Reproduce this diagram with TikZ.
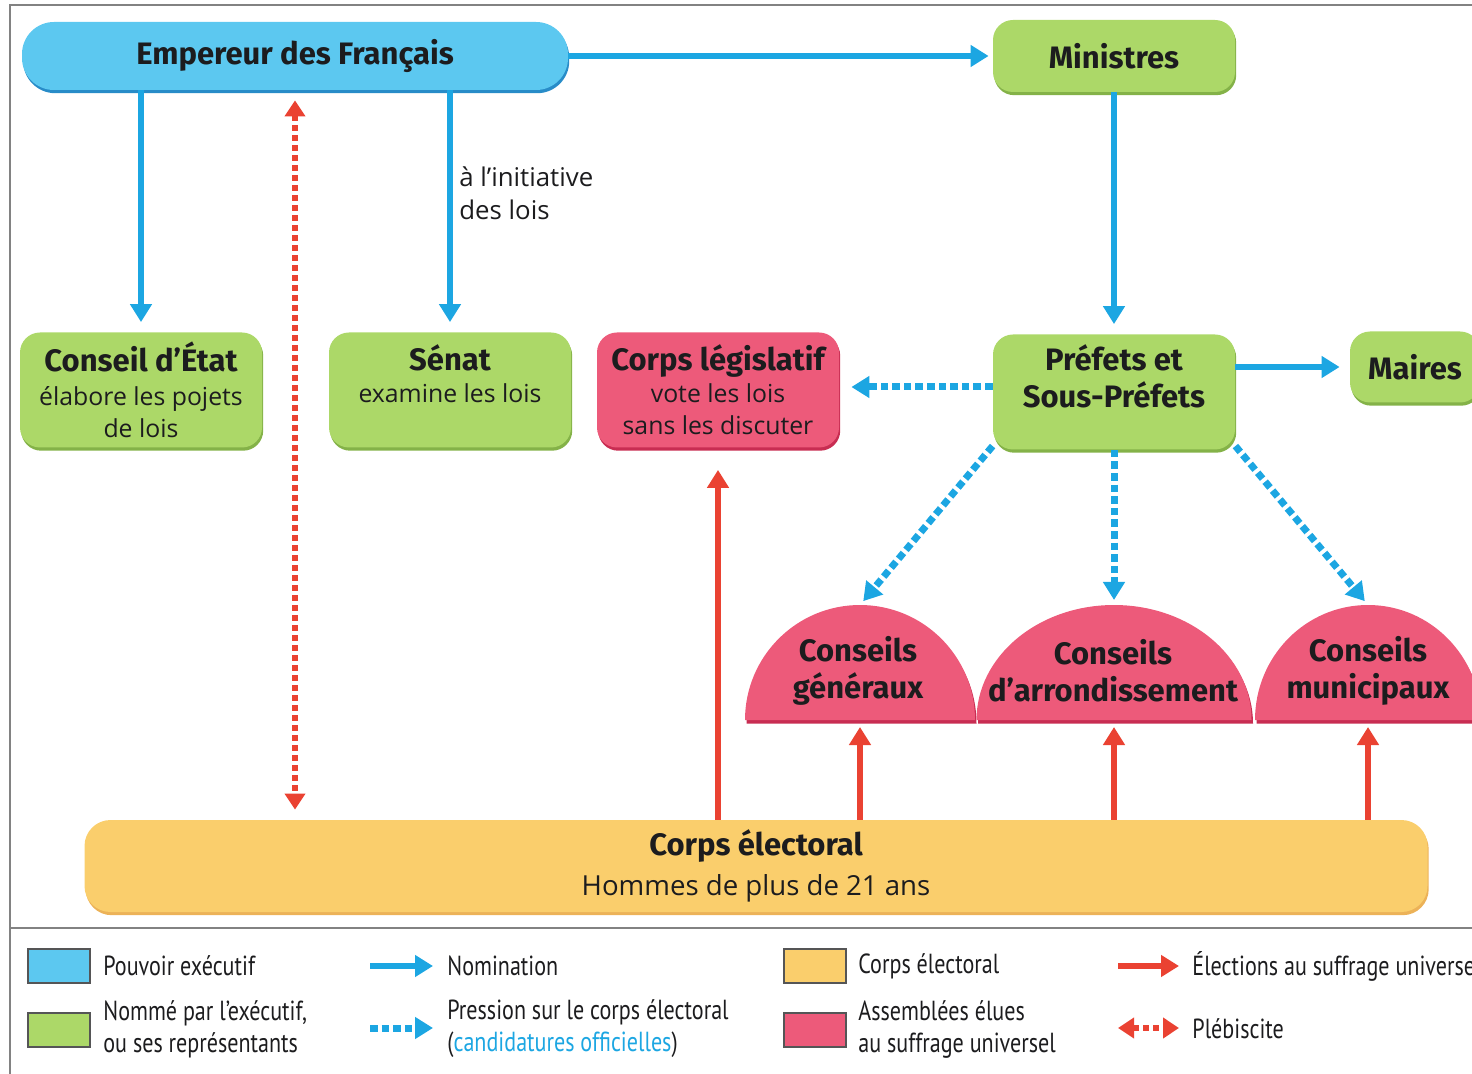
\documentclass[tikz,border=0pt]{standalone}
\usepackage{fontspec}
\setmainfont{Open Sans}
\newfontfamily\grasfont{Fira Sans}
\newfontfamily\legfont[FakeStretch=0.8]{PT Sans}
\usetikzlibrary{arrows.meta,shadows}
\definecolor{bleu}{RGB}{92,200,240}
\definecolor{bleuf}{RGB}{28,166,226}
\definecolor{bleuo}{RGB}{40,140,200}
\definecolor{vert}{RGB}{172,216,104}
\definecolor{vertf}{RGB}{132,178,72}
\definecolor{rose}{RGB}{237,90,122}
\definecolor{rosef}{RGB}{200,45,82}
\definecolor{jaune}{RGB}{250,206,108}
\definecolor{jaunef}{RGB}{236,178,88}
\definecolor{rouge}{RGB}{234,66,50}
\definecolor{encre}{RGB}{28,28,30}
\definecolor{gris}{RGB}{130,130,130}
\newcommand\gras[1]{{\grasfont\bfseries\fontsize{15.5}{16}\selectfont #1}}
\tikzset{
  boite/.style={rounded corners=10pt, align=center, inner sep=0pt, text=encre,
    minimum width=121pt, minimum height=57.5pt},
  ombre/.style={drop shadow={shadow xshift=0.6pt, shadow yshift=-1.6pt, fill=#1, opacity=1}},
  boiteexec/.style={boite, fill=bleu, ombre=bleuo},
  boitenom/.style={boite, fill=vert, ombre=vertf},
  boiteelue/.style={boite, fill=rose, ombre=rosef},
  boiteelec/.style={boite, fill=jaune, ombre=jaunef},
  dome/.style={align=center, text=encre, inner sep=0pt},
  fleche/.style={line width=2.8pt, -{Triangle[length=9pt,width=10.5pt]}},
  nomin/.style={fleche, bleuf},
  press/.style={fleche, bleuf, line width=3.5pt, dash pattern=on 3.8pt off 2pt},
  elec/.style={fleche, rouge},
  pleb/.style={rouge, line width=3pt, dash pattern=on 3pt off 2pt,
    {Triangle[length=8pt,width=10pt]}-{Triangle[length=8pt,width=10pt]}},
  carre/.style={draw=encre!75, line width=0.6pt, minimum width=31pt, minimum height=17pt, inner sep=0pt},
  leg/.style={anchor=west, align=left, text=encre, inner sep=0pt,
    font=\legfont\fontsize{13.8}{16}\selectfont},
}
\begin{document}
\begin{tikzpicture}[x=0.5pt, y=-0.5pt, font=\fontsize{12.4}{16}\selectfont]
  \useasboundingbox (0,0) rectangle (1472,1074);
  \clip (0,0) rectangle (1472,1074);
  \draw[gris, line width=0.8pt] (10,1074) -- (10,5) -- (1472,5) (10,928) -- (1472,928);

  \node[boiteexec, minimum width=273pt, minimum height=34pt, rounded corners=16pt] (emp) at (295,56)
    {\gras{Empereur des Français}};
  \node[boitenom, minimum height=36pt] (min) at (1114,56) {\gras{Ministres}};
  \node[boitenom] (ce) at (141,390) {\gras{Conseil d’État}\\[1pt]élabore les pojets\\de lois};
  \node[boitenom] (sen) at (450,390) {\gras{Sénat}\\examine les lois\\ \mbox{}};
  \node[boiteelue] (cl) at (718,390) {\gras{Corps législatif}\\vote les lois\\sans les discuter};
  \node[boitenom] (pref) at (1114,392) {\gras{Préfets et}\\[2.5pt]\gras{Sous-Préfets}\\ \mbox{}};
  \node[boitenom, minimum width=65pt, minimum height=35.5pt] (mai) at (1415,367) {\gras{Maires}};
  \node[boiteelec, minimum width=671.5pt, minimum height=46pt, rounded corners=13pt] (ele) at (756,866)
    {\gras{Corps électoral}\\[4pt]{\fontsize{13.8}{16}\selectfont Hommes de plus de 21 ans}};
  \node[anchor=west, align=left, text=encre, inner sep=0pt, font=\fontsize{12.9}{16.5}\selectfont] (init)
    at (459,193) {à l’initiative\\des lois};

  \path (860,605) coordinate (cgh) (860,720) coordinate (cgb)
    (1114,605) coordinate (cah) (1114,720) coordinate (cab)
    (1368,605) coordinate (cmh) (1368,720) coordinate (cmb);
  \fill[rosef] (746.5,723.5) arc[start angle=180, end angle=360, x radius=115, y radius=115] -- cycle;
  \fill[rose] (745,720) arc[start angle=180, end angle=360, x radius=115, y radius=115] -- cycle;
  \fill[rosef] (978,723.5) arc[start angle=180, end angle=360, x radius=137.5, y radius=115] -- cycle;
  \fill[rose] (976.5,720) arc[start angle=180, end angle=360, x radius=137.5, y radius=115] -- cycle;
  \fill[rosef] (1256.5,723.5) arc[start angle=180, end angle=360, x radius=113, y radius=115] -- cycle;
  \fill[rose] (1255,720) arc[start angle=180, end angle=360, x radius=113, y radius=115] -- cycle;
  \node[dome] (cg) at (858,671) {\gras{Conseils}\\[2.5pt]\gras{généraux}};
  \node[dome] (ca) at (1113,671) {\gras{Conseils}\\[2.5pt]\gras{d’arrondissement}};
  \node[dome] (cm) at (1368,671) {\gras{Conseils}\\[2.5pt]\gras{municipaux}};

  \draw[nomin, shorten >=2pt] (emp.east) -- (min.west);
  \draw[nomin, shorten >=5pt] (emp.south -| ce.north) -- (ce.north);
  \draw[nomin, shorten >=5pt] (emp.south -| sen.north) -- (sen.north);
  \draw[nomin, shorten >=5pt] (min.south) -- (pref.north);
  \draw[nomin, shorten >=5pt] (pref.east |- mai.west) -- (mai.west);
  \draw[press, shorten >=6pt] (pref.west |- 0,387) -- (cl.east |- 0,387);
  \draw[press, shorten >=2.5pt] (pref.204) -- (cgh);
  \draw[press, shorten >=2.5pt] (pref.south) -- (cah);
  \draw[press, shorten >=2.5pt] (pref.-24) -- (cmh);
  \draw[pleb, shorten <=5pt, shorten >=5pt] (emp.south) -- (emp.south |- ele.north);
  \draw[elec, shorten >=11pt] (ele.north -| cl.south) -- (cl.south);
  \draw[elec, shorten >=3.5pt] (ele.north -| cgb) -- (cgb);
  \draw[elec, shorten >=3.5pt] (ele.north -| cab) -- (cab);
  \draw[elec, shorten >=3.5pt] (ele.north -| cmb) -- (cmb);

  \node[carre, fill=bleu] (lexec) at (59,966) {};
  \node[carre, fill=vert] (lnom) at (59,1030) {};
  \node[carre, fill=jaune] (lelec) at (815,966) {};
  \node[carre, fill=rose] (lelue) at (815,1030) {};
  \node[leg] (texec) at (103,966) {Pouvoir exécutif};
  \node[leg] (tnom) at (103,1029) {Nommé par l’exécutif,\\ou ses représentants};
  \node[leg] (telec) at (858,966) {Corps électoral};
  \node[leg] (telue) at (858,1029) {Assemblées élues\\au suffrage universel};
  \path (370,966) coordinate (n1) (433,966) coordinate (n2)
    (370,1028) coordinate (p1) (433,1028) coordinate (p2)
    (1118,966) coordinate (e1) (1179,966) coordinate (e2)
    (1118,1028) coordinate (b1) (1179,1028) coordinate (b2);
  \draw[nomin] (n1) -- (n2);
  \draw[press] (p1) -- (p2);
  \draw[elec] (e1) -- (e2);
  \draw[pleb] (b1) -- (b2);
  \node[leg] (tnomin) at (447,966) {Nomination};
  \node[leg] (tpress) at (447,1029) {Pression sur le corps électoral\\(\textcolor{bleuf}{candidatures officielles})};
  \node[leg] (telect) at (1192,966) {Élections au suffrage universel};
  \node[leg] (tpleb) at (1192,1029) {Plébiscite};
\end{tikzpicture}
\end{document}
